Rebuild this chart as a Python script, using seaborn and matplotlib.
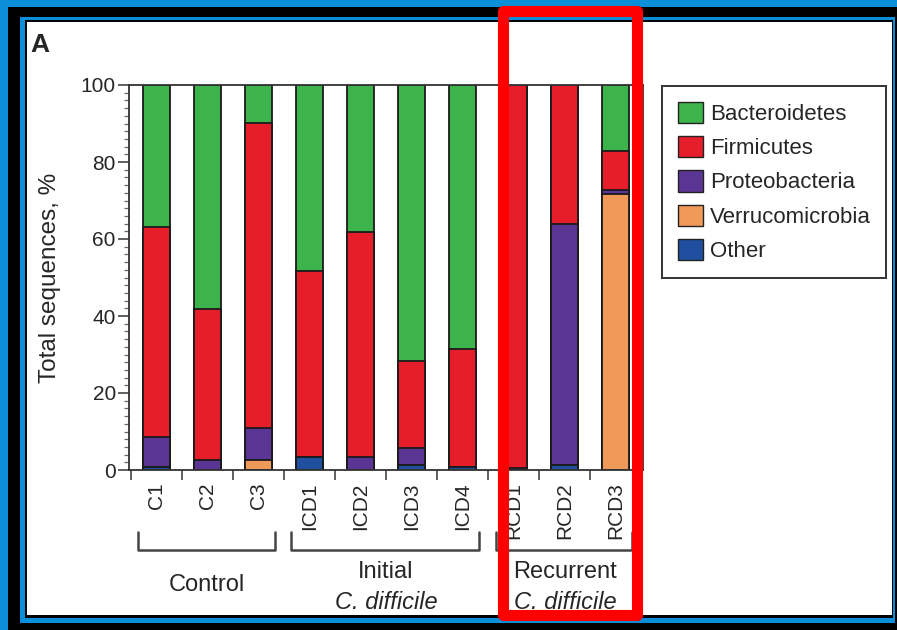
import matplotlib.pyplot as plt
from matplotlib.patches import Rectangle, Patch
from matplotlib.ticker import MultipleLocator, FixedLocator
import matplotlib.transforms as mtransforms
import seaborn as sns
import numpy as np

# data (% of total sequences, stacked bottom -> top)
samples = ["C1", "C2", "C3", "ICD1", "ICD2", "ICD3", "ICD4", "RCD1", "RCD2", "RCD3"]
other = [0.8, 0.0, 0.0, 3.5, 0.0, 1.2, 0.8, 0.0, 1.2, 0.0]
verrucomicrobia = [0.0, 0.0, 2.6, 0.0, 0.0, 0.0, 0.0, 0.0, 0.0, 71.6]
proteobacteria = [7.8, 2.6, 8.3, 0.0, 3.5, 4.5, 0.0, 0.5, 62.6, 1.0]
firmicutes = [54.4, 39.1, 79.2, 48.1, 58.3, 22.7, 30.5, 99.5, 36.2, 10.2]
bacteroidetes = [100 - o - v - p - f for o, v, p, f in
                 zip(other, verrucomicrobia, proteobacteria, firmicutes)]

phyla = ["Bacteroidetes", "Firmicutes", "Proteobacteria", "Verrucomicrobia", "Other"]
colors = ["#3cb44b", "#e61e2b", "#5b3594", "#f09a5a", "#1f4f9e"]

# (label, italic line, first bar, last bar)
groups = [("Control", None, 0, 2),
          ("Initial", "C. difficile", 3, 6),
          ("Recurrent", "C. difficile", 7, 9)]

sns.set_style("ticks")
plt.rcParams["font.family"] = ["Liberation Sans", "DejaVu Sans"]

fig = plt.figure(figsize=(8.97, 6.30), dpi=100)
W, H = 897.0, 630.0

def px_rect(x0, y0, x1, y1, **kw):
    # rectangle given in pixel coords measured from top-left
    return Rectangle((x0 / W, 1 - y1 / H), (x1 - x0) / W, (y1 - y0) / H,
                     transform=fig.transFigure, **kw)

# screenshot frame
fig.patch.set_facecolor("#0b8fd8")
fig.patches.append(px_rect(8, 7, 900, 640, facecolor="black", edgecolor="none", zorder=-10))
fig.patches.append(px_rect(20, 17, 895, 623, facecolor="#0b8fd8", edgecolor="none", zorder=-9))
fig.patches.append(px_rect(25, 20, 893, 618, facecolor="black", edgecolor="none", zorder=-8))
fig.patches.append(px_rect(27, 22, 892, 615, facecolor="white", edgecolor="none", zorder=-7))

ax = fig.add_axes([129 / W, 1 - 470 / H, 514 / W, 385 / H])
ax.set_facecolor("white")

layers = [other, verrucomicrobia, proteobacteria, firmicutes, bacteroidetes]
cum = np.cumsum(np.array(layers), axis=0)
# draw tallest cumulative layer first so lower layers sit on top
for i in range(len(phyla)):
    sns.barplot(x=samples, y=cum[len(layers) - 1 - i], color=colors[i], saturation=1,
                width=0.53, edgecolor="#1a1a1a", linewidth=1.3, errorbar=None, ax=ax)

ax.set_xlim(-0.53, 9.53)
ax.set_ylim(0, 100)
ax.set_xlabel("")
ax.set_ylabel("Total sequences, %", fontsize=17.5, labelpad=14)

for s in ax.spines.values():
    s.set_visible(True)
    s.set_color("#333333")
    s.set_linewidth(1.3)

ax.yaxis.set_major_locator(MultipleLocator(20))
ax.yaxis.set_minor_locator(MultipleLocator(2))
ax.tick_params(axis="y", which="major", length=8, width=1.2, color="#444444",
               labelsize=15, pad=1.5)
ax.tick_params(axis="y", which="minor", length=3.5, width=0.9, color="#666666")

ax.set_xticks(range(len(samples)))
ax.set_xticklabels(samples, rotation=90)
ax.xaxis.set_minor_locator(FixedLocator(np.arange(-0.5, len(samples), 1.0)))
ax.tick_params(axis="x", which="major", length=0, labelsize=15, pad=9)
ax.tick_params(axis="x", which="minor", length=7, width=1.2, color="#444444")

# group brackets and names below the axis
trans = mtransforms.blended_transform_factory(ax.transData, ax.transAxes)
for name, sub, a, b in groups:
    x0, x1 = a - 0.35, b + 0.32
    ax.plot([x0, x0, x1, x1], [-0.161, -0.208, -0.208, -0.161], color="#444444",
            lw=1.8, transform=trans, clip_on=False)
    xc = (a + b) / 2
    if sub is None:
        ax.text(xc, -0.299, name, ha="center", va="center", fontsize=17,
                transform=trans, clip_on=False)
    else:
        ax.text(xc, -0.265, name, ha="center", va="center", fontsize=17,
                transform=trans, clip_on=False)
        ax.text(xc, -0.343, sub, ha="center", va="center", fontsize=17,
                style="italic", transform=trans, clip_on=False)

handles = [Patch(facecolor=c, edgecolor="#222222", linewidth=1.0) for c in colors]
leg = ax.legend(handles, phyla, loc="upper left", bbox_to_anchor=(662 / W, 1 - 86 / H),
                bbox_transform=fig.transFigure, fontsize=16, frameon=True, fancybox=False,
                framealpha=1, edgecolor="#333333", handlelength=1.15, handleheight=1.1,
                handletextpad=0.3, labelspacing=0.5, borderpad=0.7, borderaxespad=0)
leg.get_frame().set_linewidth(1.4)

fig.text(30 / W, 1 - 52 / H, "A", fontsize=19, fontweight="bold", ha="left", va="baseline")

# red highlight box around the recurrent samples
fig.patches.append(px_rect(502.5, 11, 637, 614.5, fill=False, edgecolor="#ff0000",
                           linewidth=8, joinstyle="round", zorder=20))

fig.savefig("out.png", dpi=100, facecolor=fig.get_facecolor())
